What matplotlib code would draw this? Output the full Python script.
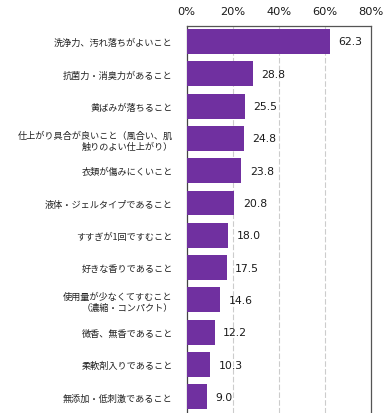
import numpy as np
import matplotlib.pyplot as plt

# 洗濯用洗剤に求めること（%）
labels = [
    '洗浄力、汚れ落ちがよいこと',
    '抗菌力・消臭力があること',
    '黄ばみが落ちること',
    '仕上がり具合が良いこと（風合い、肌\n触りのよい仕上がり）',
    '衣類が傷みにくいこと',
    '液体・ジェルタイプであること',
    'すすぎが1回ですむこと',
    '好きな香りであること',
    '使用量が少なくてすむこと\n（濃縮・コンパクト）',
    '微香、無香であること',
    '柔軟剤入りであること',
    '無添加・低刺激であること',
]
values = [62.3, 28.8, 25.5, 24.8, 23.8, 20.8, 18.0, 17.5, 14.6, 12.2, 10.3, 9.0]
ticks = [0, 20, 40, 60, 80]

plt.rcParams['font.family'] = ['Noto Sans CJK JP', 'DejaVu Sans']

fig = plt.figure(figsize=(3.88, 4.14), dpi=100)
ax = fig.add_axes([0.4807, 0.0, 0.4755, 0.9348])

y = np.arange(len(values))
ax.barh(y, values, height=0.77, color='#7030A0', zorder=3)

for yi, v in zip(y, values):
    ax.annotate(f'{v:.1f}', (v, yi), xytext=(6, 0), textcoords='offset points',
                ha='left', va='center', fontsize=7.8, family='DejaVu Sans',
                color='#1a1a1a')

ax.set_xlim(0, 80)
ax.set_ylim(11.5, -0.48)
ax.set_xticks(ticks)
ax.set_xticklabels([f'{t}%' for t in ticks], family='DejaVu Sans', fontsize=8.2)
ax.xaxis.tick_top()
ax.tick_params(axis='x', length=0, pad=7, colors='#1a1a1a')
ax.set_yticks(y)
ax.set_yticklabels(labels, fontsize=6.6, color='#222222', multialignment='right',
                   linespacing=1.25)
ax.tick_params(axis='y', length=0, pad=10)

for t in ticks[1:-1]:
    ax.axvline(t, color='#cccccc', lw=0.8, ls=(0, (5, 2)), zorder=1)

ax.spines['bottom'].set_visible(False)
ax.spines['left'].set_color('#444444')
ax.spines['top'].set_color('#555555')
ax.spines['right'].set_color('#555555')
for s in ax.spines.values():
    s.set_linewidth(0.9)

fig.savefig('out.png', dpi=100)
